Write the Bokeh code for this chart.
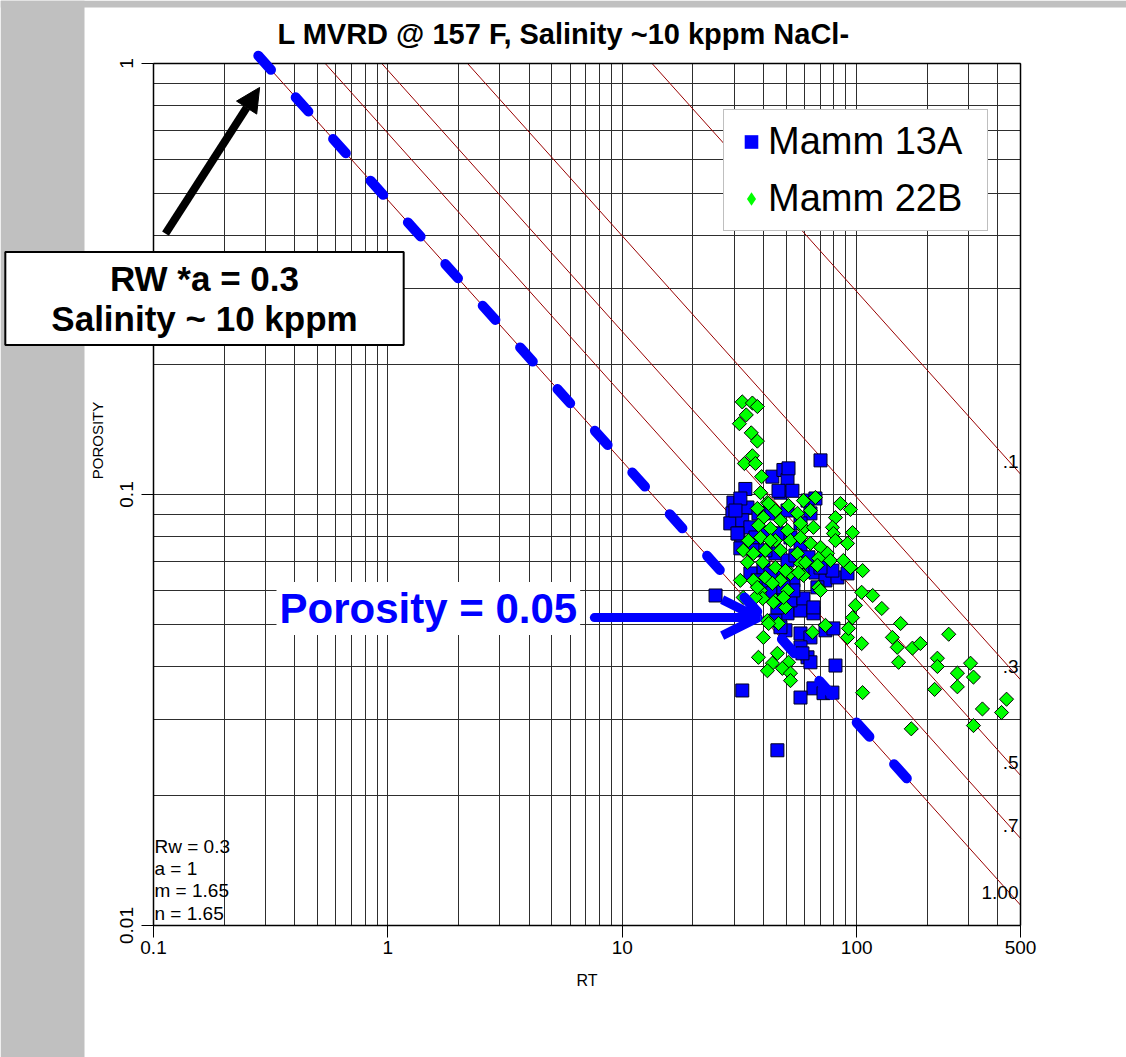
import numpy as np
from bokeh.plotting import figure
from bokeh.models import (Range1d, FixedTicker, CustomJSTickFormatter, Label, Arrow,
                          NormalHead, OpenHead, BoxAnnotation, Legend, LegendItem,
                          LogAxis, Grid)
from bokeh.core.properties import value
from bokeh.embed import file_html
from bokeh.resources import INLINE

FONT = "Liberation Sans"

# Archie / Pickett parameters
RW = 0.3
A = 1.0
M = 1.65
N = 1.65
SW_LINES = [1.0, 0.7, 0.5, 0.3, 0.1]
SW_LABELS = ["1.00", ".7", ".5", ".3", ".1"]

x_ticks = [0.1, 1, 10, 100, 500]
y_ticks = [0.01, 0.1, 1]
x_grid = [0.1, 0.2, 0.3, 0.4, 0.5, 0.6, 0.7, 0.8, 0.9,
          1, 2, 3, 4, 5, 6, 7, 8, 9,
          10, 20, 30, 40, 50, 60, 70, 80, 90,
          100, 200, 300, 400, 500]
y_grid = [0.01, 0.02, 0.03, 0.04, 0.05, 0.06, 0.07, 0.08, 0.09,
          0.1, 0.2, 0.3, 0.4, 0.5, 0.6, 0.7, 0.8, 0.9, 1.0]

# Mamm 13A (blue squares)
mamm13a_rt = [70.1, 43.7, 48.7, 50.7, 47.3, 53.2, 33.5, 29.8, 29.5, 28.9,
              34.2, 32.5, 31.3, 35.2, 32.5, 37.0, 36.3, 41.6, 47.3, 52.2,
              57.6, 45.0, 50.7, 61.7, 66.7, 63.5, 57.6, 42.1, 38.1, 40.0,
              35.2, 37.8, 42.1, 46.4, 43.7, 48.7, 53.7, 61.7, 66.7, 73.6,
              82.8, 91.4, 78.8, 25.0, 50.7, 57.6, 65.4, 45.0, 49.7, 57.6,
              63.5, 73.6, 79.6, 57.6, 61.7, 63.5, 81.2, 68.0, 52.2, 45.9,
              32.5, 45.9, 59.3, 58.7, 65.4, 72.2, 78.8, 57.6, 47.3, 31.9,
              30.4, 31.0, 31.9, 40.8, 42.9, 54.8, 62.3, 70.1, 50.7, 45.9,
              65.4, 53.7, 48.7, 46.4, 51.2]
mamm13a_phi = [0.120, 0.110, 0.114, 0.108, 0.101, 0.102, 0.103, 0.0958, 0.0904, 0.0857,
               0.0933, 0.0871, 0.0812, 0.0839, 0.0770, 0.0795, 0.0742, 0.0816, 0.0812, 0.0795,
               0.0754, 0.0730, 0.0703, 0.0968, 0.0979, 0.0904, 0.0857, 0.0904, 0.0904, 0.0677,
               0.0656, 0.0632, 0.0625, 0.0642, 0.0590, 0.0599, 0.0632, 0.0677, 0.0659, 0.0632,
               0.0642, 0.0656, 0.0666, 0.0583, 0.0530, 0.0538, 0.0530, 0.0510, 0.0484, 0.0476,
               0.0466, 0.0484, 0.0489, 0.0442, 0.0419, 0.0408, 0.0401, 0.0609, 0.0568, 0.0547,
               0.0351, 0.0255, 0.0574, 0.0428, 0.0355, 0.0346, 0.0347, 0.0338, 0.0492, 0.0979,
               0.0918, 0.0812, 0.0750, 0.0742, 0.0656, 0.0722, 0.0715, 0.0677, 0.0918, 0.0812,
               0.0547, 0.0599, 0.0609, 0.102, 0.115]

# Mamm 22B (green diamonds)
mamm22b_rt = [32.5, 35.9, 37.7, 33.8, 31.6, 35.5, 37.7, 35.9, 33.2, 37.0,
              39.3, 38.9, 41.6, 45.0, 51.2, 55.9, 63.5, 37.7, 40.0, 47.3,
              38.1, 42.9, 50.7, 59.3, 65.4, 34.5, 38.9, 45.0, 52.2, 57.6,
              63.5, 70.1, 75.1, 68.7, 32.8, 36.3, 40.8, 47.3, 55.9, 34.2,
              39.7, 45.0, 57.6, 68.0, 77.3, 87.8, 94.1, 31.9, 36.3, 40.8,
              47.3, 52.2, 59.3, 68.7, 43.7, 38.9, 50.7, 39.7, 45.0, 49.7,
              32.8, 36.3, 41.6, 40.0, 46.4, 64.8, 73.6, 91.4, 66.7, 59.3,
              85.3, 94.1, 81.2, 78.8, 96.0, 79.6, 91.4, 81.2, 106, 105,
              117, 98.8, 128, 96.0, 154, 92.3, 105, 142, 149, 173,
              187, 247, 221, 221, 151, 269, 306, 315, 269, 344,
              315, 415, 436, 106, 171, 215, 38.1, 45.9, 43.7, 51.2,
              48.2, 52.2, 52.2, 35.2, 44.1, 37.0, 42.1, 70.1, 60.5, 56.4,
              49.7, 37.7, 48.7, 42.1, 57.6, 42.9, 41.6]
mamm22b_phi = [0.164, 0.163, 0.160, 0.153, 0.146, 0.139, 0.133, 0.123, 0.118, 0.118,
               0.110, 0.101, 0.0958, 0.0918, 0.0943, 0.0904, 0.0918, 0.0928, 0.0884, 0.0871,
               0.0848, 0.0834, 0.0825, 0.0834, 0.0839, 0.0782, 0.0795, 0.0782, 0.0782, 0.0795,
               0.0770, 0.0754, 0.0730, 0.0711, 0.0742, 0.0730, 0.0742, 0.0742, 0.0730, 0.0696,
               0.0696, 0.0677, 0.0692, 0.0685, 0.0703, 0.0703, 0.0677, 0.0632, 0.0632, 0.0642,
               0.0632, 0.0656, 0.0649, 0.0609, 0.0622, 0.0599, 0.0599, 0.0574, 0.0568, 0.0547,
               0.0577, 0.0530, 0.0510, 0.0466, 0.0502, 0.0479, 0.0497, 0.0466, 0.0984, 0.0968,
               0.0953, 0.0923, 0.0884, 0.0839, 0.0816, 0.0812, 0.0770, 0.0782, 0.0666, 0.0593,
               0.0583, 0.0553, 0.0544, 0.0518, 0.0502, 0.0489, 0.0451, 0.0466, 0.0442, 0.0440,
               0.0451, 0.0474, 0.0417, 0.0399, 0.0408, 0.0385, 0.0406, 0.0377, 0.0358, 0.0318,
               0.0291, 0.0312, 0.0335, 0.0347, 0.0286, 0.0353, 0.0419, 0.0428, 0.0406, 0.0408,
               0.0395, 0.0385, 0.0370, 0.0538, 0.0562, 0.0577, 0.0502, 0.0599, 0.0696, 0.0659,
               0.0666, 0.0609, 0.0577, 0.0953, 0.0857, 0.0782, 0.0390]

# annotation anchors (data units)
highlight_rt = [0.28, 175.0]          # blue dashed Sw = 1 highlight
poro_arrow_rt = [7.6, 38.0]
poro_arrow_phi = 0.0518
black_arrow_rt = [0.1125, 0.2836]
black_arrow_phi = [0.403, 0.880]

# canvas / plot-area geometry (px)
W, H = 1126, 1057
FL, FR, FT, FB = 153, 1020, 63, 925
dec_x = (FR - FL) / np.log10(500 / 0.1)
dec_y = (FB - FT) / np.log10(1 / 0.01)
x_lo = 0.1 * 10 ** (-FL / dec_x)
x_hi = 500 * 10 ** ((W - FR) / dec_x)
y_lo = 0.01 * 10 ** (-(H - FB) / dec_y)
y_hi = 1.0 * 10 ** (FT / dec_y)


def sy(cy):
    """canvas y (top-down) -> screen units measured from the bottom"""
    return H - cy


p = figure(width=W, height=H, x_axis_type="log", y_axis_type="log",
           x_range=Range1d(x_lo, x_hi), y_range=Range1d(y_lo, y_hi),
           output_backend="svg", toolbar_location=None, title_location=None,
           min_border=0)
p.background_fill_color = "white"
p.border_fill_color = "white"
p.outline_line_color = None

# axes pinned to the plot area
fmt = "return String(tick);"
p.xaxis.fixed_location = 0.01
p.xaxis.bounds = (0.1, 500)
p.yaxis.fixed_location = 0.1
p.yaxis.bounds = (0.01, 1)
p.xaxis.ticker = FixedTicker(ticks=x_ticks, minor_ticks=[])
p.yaxis.ticker = FixedTicker(ticks=y_ticks, minor_ticks=[])
p.xaxis.formatter = CustomJSTickFormatter(code=fmt)
p.yaxis.formatter = CustomJSTickFormatter(code=fmt)
for ax in (p.xaxis, p.yaxis):
    ax.major_tick_out = 12
    ax.major_tick_in = 0
    ax.minor_tick_line_color = None
    ax.major_tick_line_color = "black"
    ax.axis_line_color = "black"
    ax.axis_line_width = 1.5
    ax.major_label_text_font = FONT
    ax.major_label_text_font_size = "19px"
    ax.major_label_text_color = "black"
p.xaxis.major_label_standoff = 3
p.yaxis.major_label_standoff = 9
p.yaxis.major_label_orientation = "vertical"

# top and right borders of the plot area
top_ax = LogAxis(fixed_location=1.0, bounds=(0.1, 500), ticker=FixedTicker(ticks=[]),
                 major_tick_line_color=None, minor_tick_line_color=None,
                 major_label_text_font_size="0px", axis_line_color="black",
                 axis_line_width=1.5)
right_ax = LogAxis(fixed_location=500, bounds=(0.01, 1), ticker=FixedTicker(ticks=[]),
                   major_tick_line_color=None, minor_tick_line_color=None,
                   major_label_text_font_size="0px", axis_line_color="black",
                   axis_line_width=1.5)
p.add_layout(top_ax, "above")
p.add_layout(right_ax, "right")

# grid restricted to the plot area
GRID_COLOR = "#2e2e2e"
if "cross_bounds" in Grid.properties():
    p.xgrid.ticker = FixedTicker(ticks=x_grid)
    p.ygrid.ticker = FixedTicker(ticks=y_grid)
    p.xgrid.bounds = (0.1, 500)
    p.ygrid.bounds = (0.01, 1)
    p.xgrid.cross_bounds = (0.01, 1)
    p.ygrid.cross_bounds = (0.1, 500)
    p.grid.grid_line_color = GRID_COLOR
    p.grid.grid_line_width = 1
else:
    p.grid.visible = False
    p.segment(x0=x_grid, y0=[0.01] * len(x_grid), x1=x_grid, y1=[1.0] * len(x_grid),
              line_color=GRID_COLOR, line_width=1)
    p.segment(x0=[0.1] * len(y_grid), y0=y_grid, x1=[500] * len(y_grid), y1=y_grid,
              line_color=GRID_COLOR, line_width=1)

# Pickett Sw lines (clipped to the plot area)
for sw in SW_LINES:
    rt_top = A * RW / sw ** N
    rt_end = min(500.0, A * RW / (0.01 ** M * sw ** N))
    rts = np.array([rt_top, rt_end])
    phi = (A * RW / (rts * sw ** N)) ** (1.0 / M)
    p.line(rts, phi, line_color="#990000", line_width=1)

# data
r13 = p.scatter(mamm13a_rt, mamm13a_phi, marker="square", size=13,
                fill_color="#0000FF", line_color="#000022", line_width=1)
r22 = p.scatter(mamm22b_rt, mamm22b_phi, marker="square", angle=np.pi / 4, size=10,
                fill_color="#00FF00", line_color="black", line_width=1)

# legend swatches (hidden copies of the first point, no outline)
leg13 = p.scatter(mamm13a_rt[:1], mamm13a_phi[:1], marker="square", size=13,
                  fill_color="#0000FF", line_color=None, visible=False)
leg22 = p.scatter(mamm22b_rt[:1], mamm22b_phi[:1], marker="diamond", size=14,
                  fill_color="#00FF00", line_color=None, visible=False)

# Sw labels at the right edge
sw_end_phi = [(A * RW / (500.0 * sw ** N)) ** (1.0 / M) for sw in SW_LINES]
p.text(x=[500.0] * len(SW_LINES), y=sw_end_phi, text=SW_LABELS,
       text_align="right", text_baseline="alphabetic", x_offset=-2, y_offset=-13,
       text_font=value(FONT), text_font_size="19px", text_color="black")

# legend
legend = Legend(items=[LegendItem(label="Mamm 13A", renderers=[leg13]),
                       LegendItem(label="Mamm 22B", renderers=[leg22])],
                location=(723, H - 231), orientation="vertical",
                label_text_font=FONT, label_text_font_size="38px",
                label_text_color="black",
                glyph_width=34, glyph_height=35, padding=10, spacing=14,
                label_standoff=-2, label_width=209, margin=0,
                border_line_color="#808080", border_line_width=1.5,
                background_fill_color="white", background_fill_alpha=1)
p.add_layout(legend)

# gray slide margins
p.add_layout(BoxAnnotation(left=0, right=84, bottom=0, top=H,
                           left_units="screen", right_units="screen",
                           bottom_units="screen", top_units="screen",
                           fill_color="#c0c0c0", fill_alpha=1, line_color=None))
p.add_layout(BoxAnnotation(left=0, right=W, bottom=sy(7), top=H,
                           left_units="screen", right_units="screen",
                           bottom_units="screen", top_units="screen",
                           fill_color="#c0c0c0", fill_alpha=1, line_color=None))

# title and axis titles
p.add_layout(Label(x=563, y=sy(33), x_units="screen", y_units="screen",
                   text="L MVRD @ 157 F, Salinity ~10 kppm NaCl-",
                   text_align="center", text_baseline="middle",
                   text_font=FONT, text_font_style="bold", text_font_size="29px",
                   text_color="black"))
p.add_layout(Label(x=(FL + FR) / 2, y=sy(980), x_units="screen", y_units="screen",
                   text="RT", text_align="center", text_baseline="middle",
                   text_font=FONT, text_font_size="16px", text_color="black"))
p.add_layout(Label(x=97, y=sy(440), x_units="screen", y_units="screen",
                   text="POROSITY", angle=np.pi / 2, text_align="center",
                   text_baseline="middle", text_font=FONT, text_font_size="15px",
                   text_color="black"))

# parameter block
p.add_layout(Label(x=FL + 1, y=sy(835), x_units="screen", y_units="screen",
                   text="Rw = 0.3\na = 1\nm = 1.65\nn = 1.65",
                   text_align="left", text_baseline="top", text_line_height=1.07,
                   text_font=FONT, text_font_size="19px", text_color="black"))

# blue dashed highlight along Sw = 1
hl_phi = [(A * RW / r) ** (1.0 / M) for r in highlight_rt]
p.add_layout(Arrow(start=None, end=None, x_start=highlight_rt[0], y_start=hl_phi[0],
                   x_end=highlight_rt[1], y_end=hl_phi[1],
                   line_color="#0000FF", line_width=10, line_dash="19 37", line_cap="round"))

# porosity callout
p.add_layout(Label(x=276, y=sy(608), x_units="screen", y_units="screen",
                   text="Porosity = 0.05", text_align="left", text_baseline="middle",
                   text_font=FONT, text_font_style="bold", text_font_size="42px",
                   text_color="#0000FF", background_fill_color="white",
                   background_fill_alpha=1, padding=3))
p.add_layout(Arrow(end=OpenHead(size=36, line_color="#0000FF", line_width=9),
                   x_start=poro_arrow_rt[0], y_start=poro_arrow_phi,
                   x_end=poro_arrow_rt[1], y_end=poro_arrow_phi,
                   line_color="#0000FF", line_width=9, line_cap="round"))

# Rw callout
p.add_layout(Label(x=204, y=sy(298), x_units="screen", y_units="screen",
                   text="RW *a = 0.3\nSalinity ~ 10 kppm", text_align="center",
                   text_baseline="middle", text_line_height=1.02,
                   text_font=FONT, text_font_style="bold", text_font_size="35px",
                   text_color="black", background_fill_color="white",
                   background_fill_alpha=1, border_line_color="black",
                   border_line_width=2, padding=(46, 7)))
p.add_layout(Arrow(end=NormalHead(size=24, fill_color="black", line_color="black"),
                   x_start=black_arrow_rt[0], y_start=black_arrow_phi[0],
                   x_end=black_arrow_rt[1], y_end=black_arrow_phi[1],
                   line_color="black", line_width=8))

open("out.html", "w").write(file_html(p, INLINE))
